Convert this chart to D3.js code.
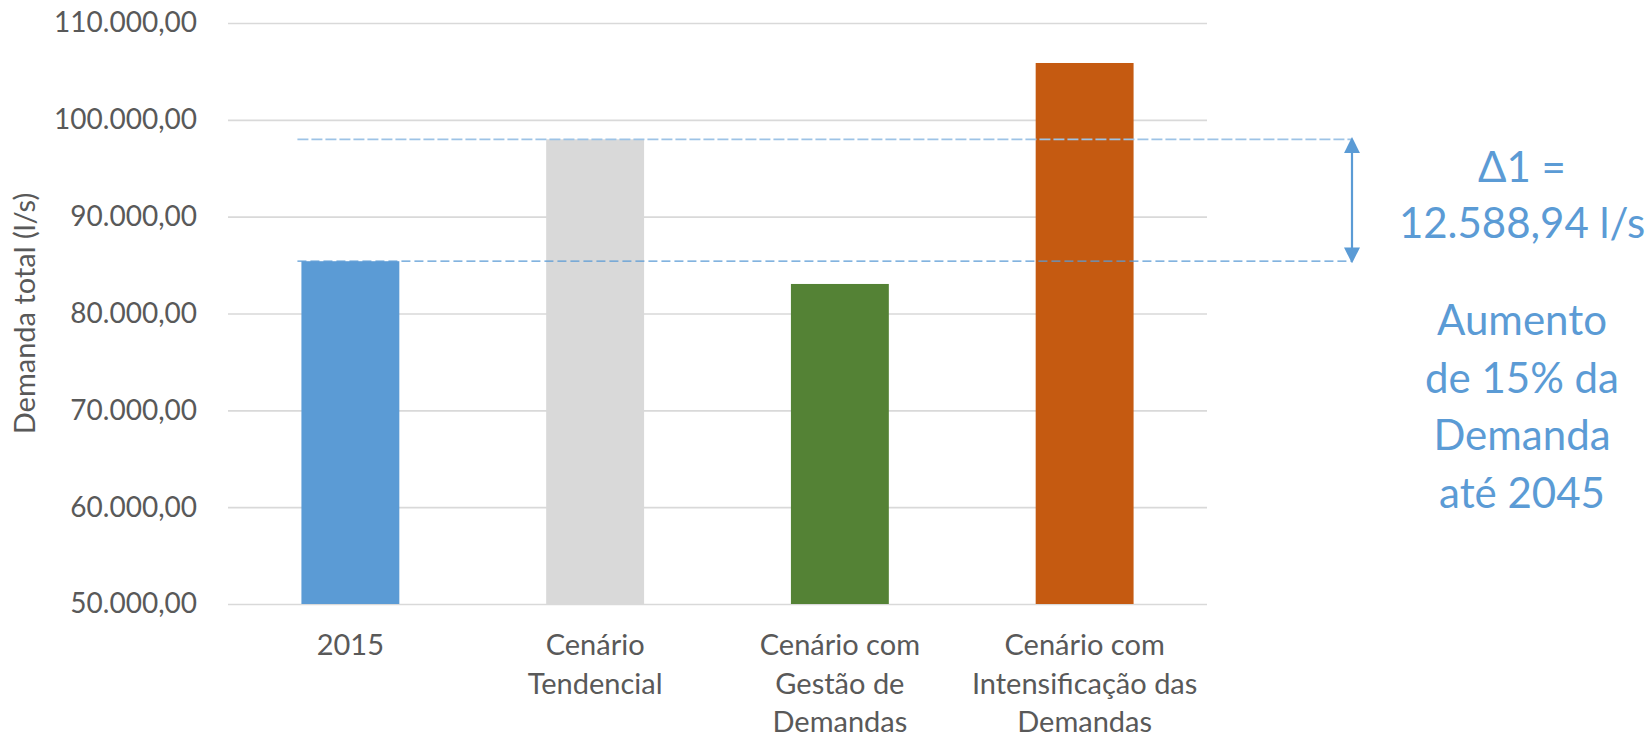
<!DOCTYPE html>
<html>
<head>
<meta charset="utf-8">
<script src="https://cdn.jsdelivr.net/npm/d3@7"></script>
<style>
  body { margin: 0; background: #fff; }
  svg { display: block; font-family: Lato, 'Open Sans', sans-serif; }
</style>
</head>
<body>
<div id="chart"></div>
<script>
// scenarios and total demand (l/s)
let categories = ['2015', 'Cenário\nTendencial', 'Cenário com\nGestão de\nDemandas', 'Cenário com\nIntensificação das\nDemandas']
let values = [85400, 97988.94, 83050, 105870]
let colors = ['#5b9bd5', '#d9d9d9', '#548235', '#c55a11']
let yTicks = [50000, 60000, 70000, 80000, 90000, 100000, 110000]
let noteLines = ['Aumento', 'de 15% da', 'Demanda', 'até 2045']

let width = 1652,
  height = 735
let margin = { top: 23, right: 445, bottom: 131, left: 228 }
let innerW = width - margin.left - margin.right
let innerH = height - margin.top - margin.bottom

let br = d3.formatLocale({ decimal: ',', thousands: '.', grouping: [3], currency: ['R$', ''] })
let fmt = br.format(',.2f')

let svg = d3.select('#chart')
  .append('svg')
  .attr('width', width)
  .attr('height', height)

let g = svg.append('g').attr('transform', 'translate(' + margin.left + ',' + margin.top + ')')

let x = d3.scaleBand()
  .domain(categories)
  .range([0, innerW])
  .paddingInner(0.6)
  .paddingOuter(0.3)

let y = d3.scaleLinear()
  .domain([50000, 110000])
  .range([innerH, 0])

// gridlines + tick labels
let yAxis = g.append('g')
  .call(d3.axisLeft(y).tickValues(yTicks).tickSize(-innerW).tickPadding(31).tickFormat(fmt))
yAxis.select('.domain').remove()
yAxis.selectAll('line').attr('stroke', '#d9d9d9').attr('stroke-width', 1.6)
yAxis.selectAll('text')
  .attr('fill', '#595959')
  .style('font-size', '28px')
  .style('font-family', 'Lato, sans-serif')

// bars
g.selectAll('.bar')
  .data(values)
  .enter().append('rect')
  .attr('class', 'bar')
  .attr('x', (d, i) => x(categories[i]))
  .attr('width', x.bandwidth())
  .attr('y', d => y(d))
  .attr('height', d => innerH - y(d))
  .attr('fill', (d, i) => colors[i])

// category labels (multi line)
let xAxis = g.append('g')
  .attr('transform', 'translate(0,' + innerH + ')')
  .call(d3.axisBottom(x).tickSize(0).tickFormat(''))
xAxis.select('.domain').remove()
xAxis.selectAll('.tick').each(function (d) {
  let t = d3.select(this).append('text')
    .attr('fill', '#595959')
    .attr('text-anchor', 'middle')
    .style('font-size', '29px')
    .style('font-family', 'Lato, sans-serif')
  d.split('\n').forEach((line, i) => {
    t.append('tspan').attr('x', 0).attr('y', 51 + i * 38.5).text(line)
  })
})

// difference annotation between 2015 and trend scenario
let arrowX = innerW + 145
let x0 = x(categories[0]) - 4
let yLow = y(values[0])
let yHigh = y(values[1])

g.append('line')
  .attr('x1', x0).attr('x2', arrowX)
  .attr('y1', yHigh).attr('y2', yHigh)
  .attr('stroke', '#9dc3e6').attr('stroke-width', 1.8)
  .attr('stroke-dasharray', '11,3')

g.append('line')
  .attr('x1', x0).attr('x2', arrowX)
  .attr('y1', yLow).attr('y2', yLow)
  .attr('stroke', '#5b9bd5').attr('stroke-width', 1.2)
  .attr('stroke-dasharray', '9,4')

svg.append('defs').append('marker')
  .attr('id', 'arrow')
  .attr('viewBox', '0 0 10 10')
  .attr('refX', 8).attr('refY', 5)
  .attr('markerWidth', 16).attr('markerHeight', 16)
  .attr('markerUnits', 'userSpaceOnUse')
  .attr('orient', 'auto-start-reverse')
  .append('path')
  .attr('d', 'M0,0 L10,5 L0,10 Z')
  .attr('fill', '#5b9bd5')

g.append('line')
  .attr('x1', arrowX).attr('x2', arrowX)
  .attr('y1', yLow - 1).attr('y2', yHigh + 1)
  .attr('stroke', '#5b9bd5').attr('stroke-width', 2.2)
  .attr('marker-end', 'url(#arrow)')
  .attr('marker-start', 'url(#arrow)')

let noteX = 1522
let note = svg.append('text')
  .attr('fill', '#5b9bd5')
  .attr('text-anchor', 'middle')
  .style('font-size', '42px')
  .style('font-family', 'Lato, sans-serif')
note.append('tspan').attr('x', noteX).attr('y', 182).text('Δ1 =')
note.append('tspan').attr('x', noteX).attr('y', 238).text(fmt(values[1] - values[0]) + ' l/s')
noteLines.forEach((line, i) => {
  note.append('tspan').attr('x', noteX).attr('y', 335 + i * 57.5).text(line)
})

// y axis title
svg.append('text')
  .attr('transform', 'translate(35,' + (margin.top + innerH / 2) + ') rotate(-90)')
  .attr('text-anchor', 'middle')
  .attr('fill', '#595959')
  .style('font-size', '29px')
  .style('font-family', 'Lato, sans-serif')
  .text('Demanda total (l/s)')
</script>
</body>
</html>
